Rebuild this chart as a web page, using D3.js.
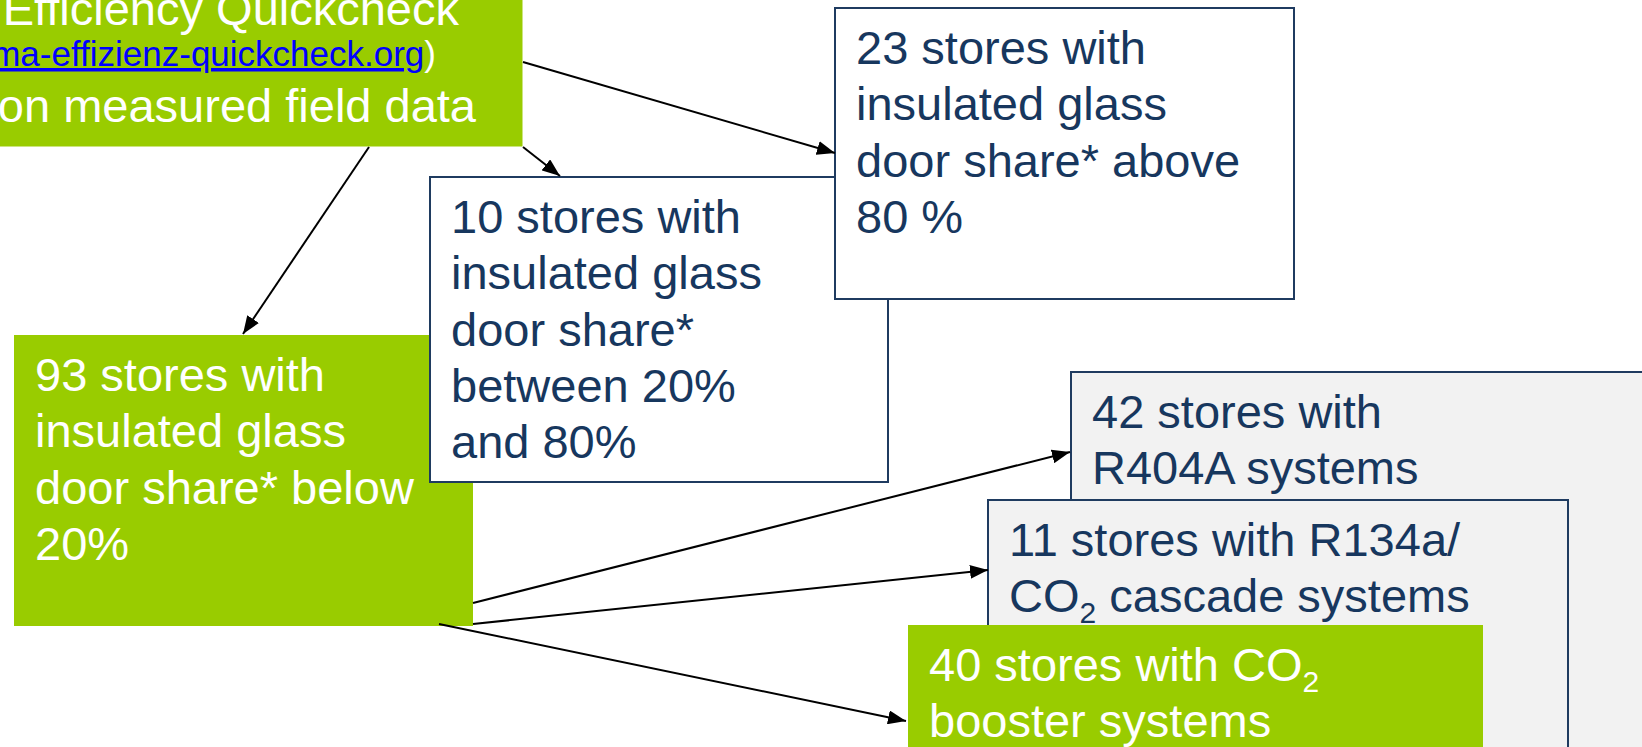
<!DOCTYPE html>
<html>
<head>
<meta charset="utf-8">
<script src="https://cdn.jsdelivr.net/npm/d3@7/dist/d3.min.js"></script>
<style>
  html, body { margin: 0; padding: 0; background: #fff; overflow: hidden; }
  svg { display: block; font-family: "Liberation Sans", Arial, sans-serif; }
</style>
</head>
<body>
<svg id="chart" width="1642" height="747"></svg>
<script>
// store counts and labels of each box (one entry per line, "_2" marks a subscript 2)
const storeCounts = [23, 10, 93, 42, 11, 40];
const boxLines = [
    ["23 stores with", "insulated glass", "door share* above", "80 %"],
    ["10 stores with", "insulated glass", "door share*", "between 20%", "and 80%"],
    ["93 stores with", "insulated glass", "door share* below", "20%"],
    ["42 stores with", "R404A systems"],
    ["11 stores with R134a/", "CO_2 cascade systems"],
    ["40 stores with CO_2", "booster systems"]
];
const sourceLines = ["Efficiency Quickcheck", "www.supermarkt-klima-effizienz-quickcheck.org", "on measured field data"];

// links between boxes: from -> to
const links = [
    ["source", 0], ["source", 1], ["source", 2],
    [2, 3], [2, 4], [2, 5]
];

// layout (drawing order = stacking order)
const boxLayout = [
    {id: 2, x: 14, y: 335, w: 459, h: 291, kind: "green"},
    {id: 1, x: 430, y: 177, w: 458, h: 305, kind: "white"},
    {id: 0, x: 835, y: 8, w: 459, h: 291, kind: "white"},
    {id: 3, x: 1071, y: 372, w: 600, h: 400, kind: "grey"},
    {id: 4, x: 988, y: 500, w: 580, h: 300, kind: "grey"},
    {id: 5, x: 908, y: 625, w: 575, h: 200, kind: "green"}
];
const linkEnds = [
    [[523, 62], [835, 153]],
    [[523, 147], [560, 176]],
    [[369, 147], [243, 334]],
    [[473, 603], [1070, 452]],
    [[473, 624], [988, 570]],
    [[439, 624], [906, 721]]
];

const green = "#99cc00";
const navy = "#17375e";
const fills = {green: green, white: "#ffffff", grey: "#f2f2f2"};

const svg = d3.select("#chart");
const fontSize = 47, lineH = 56.3, pad = 21;

// arrow marker
svg.append("defs").append("marker")
    .attr("id", "head")
    .attr("markerUnits", "userSpaceOnUse")
    .attr("viewBox", "0 -7 18 14")
    .attr("refX", 18).attr("refY", 0)
    .attr("markerWidth", 18).attr("markerHeight", 14)
    .attr("orient", "auto")
    .append("path")
    .attr("d", "M0,-7L18,0L0,7Z")
    .attr("fill", "#000");

// source box (top left, cut by the page edge)
const src = svg.append("g");
src.append("rect")
    .attr("x", -20).attr("y", -20)
    .attr("width", 542.5).attr("height", 166.5)
    .attr("fill", green);
src.append("text")
    .attr("x", 459).attr("y", 25)
    .attr("text-anchor", "end")
    .attr("font-size", fontSize).attr("fill", "#fff")
    .text(sourceLines[0]);
const linkText = src.append("text")
    .attr("x", 436).attr("y", 66)
    .attr("text-anchor", "end")
    .attr("font-size", 35).attr("fill", "#fff");
linkText.append("tspan").text("(");
linkText.append("tspan").attr("fill", "#0000ff")
    .attr("text-decoration", "underline")
    .text(sourceLines[1]);
linkText.append("tspan").text(")");
src.append("text")
    .attr("x", 476).attr("y", 122)
    .attr("text-anchor", "end")
    .attr("font-size", fontSize).attr("fill", "#fff")
    .text(sourceLines[2]);

// store boxes
const boxes = svg.selectAll("g.box")
    .data(boxLayout)
    .enter()
    .append("g")
    .attr("class", "box");

boxes.append("rect")
    .attr("x", d => d.x).attr("y", d => d.y)
    .attr("width", d => d.w).attr("height", d => d.h)
    .attr("fill", d => fills[d.kind])
    .attr("stroke", d => d.kind === "green" ? "none" : "#1f3b60")
    .attr("stroke-width", 2);

boxes.each(function(d) {
    const g = d3.select(this);
    const color = d.kind === "green" ? "#fff" : navy;
    boxLines[d.id].forEach((line, i) => {
        const t = g.append("text")
            .attr("x", d.x + pad)
            .attr("y", d.y + 56 + i * lineH)
            .attr("font-size", fontSize)
            .attr("fill", color);
        const parts = line.split("_2");
        parts.forEach((p, j) => {
            const s = t.append("tspan").text(p);
            if (j > 0) s.attr("dy", -11);
            if (j < parts.length - 1) {
                t.append("tspan").attr("font-size", 30).attr("dy", 11).text("2");
            }
        });
    });
});

// arrows
svg.selectAll("line.arrow")
    .data(links)
    .enter()
    .append("line")
    .attr("class", "arrow")
    .attr("x1", (d, i) => linkEnds[i][0][0])
    .attr("y1", (d, i) => linkEnds[i][0][1])
    .attr("x2", (d, i) => linkEnds[i][1][0])
    .attr("y2", (d, i) => linkEnds[i][1][1])
    .attr("stroke", "#000")
    .attr("stroke-width", 2)
    .attr("marker-end", "url(#head)");
</script>
</body>
</html>
